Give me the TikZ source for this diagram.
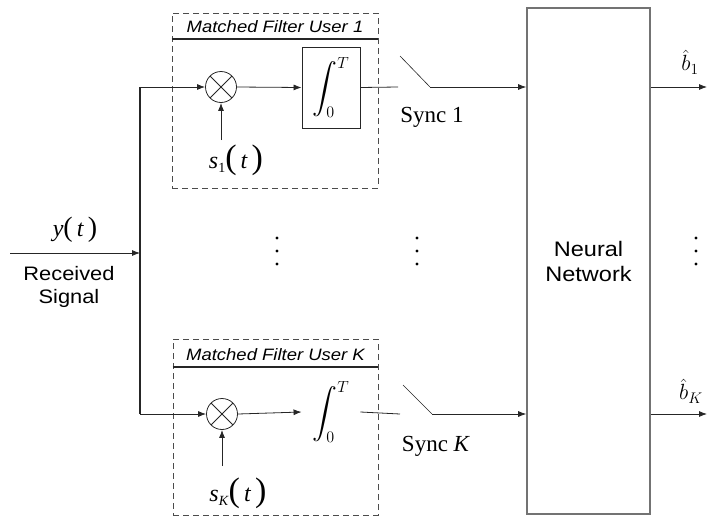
\RequirePackage{fix-cm}
\documentclass[tikz,border=0pt]{standalone}
\usepackage{amsmath}
\usepackage{fontspec}
\setmainfont{Liberation Serif}
\newfontfamily\arialx[FakeStretch=1.12]{Liberation Sans}
\usetikzlibrary{arrows.meta}
\newcommand{\bigparen}[2]{{\fontsize{#1}{#1}\selectfont(}#2{\fontsize{#1}{#1}\selectfont)}}
\begin{document}
\begin{tikzpicture}[x=1pt,y=-1pt,
  wire/.style={line width=0.8pt, draw=black!85},
  sig/.style={wire, -{Latex[length=8pt,width=6pt]}},
  mfbox/.style={draw=black!70, line width=0.9pt, dash pattern=on 6pt off 4pt, inner sep=0pt},
  tline/.style={draw=black!85, line width=1.2pt},
  mult/.style={circle, draw=black!85, line width=0.8pt, minimum size=31pt, inner sep=0pt,
    path picture={\draw[line width=0.8pt, black!85]
      (path picture bounding box.north west) -- (path picture bounding box.south east)
      (path picture bounding box.north east) -- (path picture bounding box.south west);}},
  intbox/.style={draw=black!85, line width=0.9pt, minimum width=58pt, minimum height=81pt, inner sep=0pt},
  nnbox/.style={draw=black!55, line width=1.6pt, minimum width=123pt, minimum height=506pt, inner sep=0pt, align=center,
    font=\arialx\fontsize{21}{25}\selectfont},
  title/.style={font=\arialx\itshape\fontsize{16.5}{18}\selectfont, inner sep=0pt},
  sanslabel/.style={font=\arialx\fontsize{19.5}{23}\selectfont, align=center, inner sep=0pt},
  synclabel/.style={font=\fontsize{23}{25}\selectfont, inner sep=0pt},
  mathlabel/.style={font=\fontsize{24}{26}\selectfont, inner sep=0pt},
  intlabel/.style={font=\fontsize{23}{23}\selectfont},
  vdot/.style={circle, fill=black, inner sep=0pt, minimum size=3.2pt}
]
\useasboundingbox (0,0) rectangle (709,517);

% matched filter boxes
\node[mfbox, minimum width=206pt, minimum height=175pt] (mf1) at (275,100.5) {};
\node[title] (t1) at (275,27) {Matched Filter User 1};
\draw[tline] (mf1.west |- 0,39) -- (mf1.east |- 0,39);

\node[mfbox, minimum width=205pt, minimum height=176pt] (mfK) at (275.5,427) {};
\node[title] (tK) at (275.5,355) {Matched Filter User K};
\draw[tline] (mfK.west |- 0,367) -- (mfK.east |- 0,367);

% multipliers and integrators
\node[mult] (mult1) at (221,87) {};
\node[mult] (multK) at (222,414) {};
\node[intbox, intlabel] (int1) at (331,87.5) {$\displaystyle\int_0^T$};
\node[intbox, intlabel, draw=none] (intK) at (331,412) {$\displaystyle\int_0^T$};

% neural network
\node[nnbox] (nn) at (588.5,261) {Neural\\Network};

% input
\coordinate (in) at (10,253);
\coordinate (bin) at (140,253);
\coordinate (bt) at (140,87);
\coordinate (bb) at (140,414);
\draw[wire, line width=1.1pt] (bt) -- (bb);
\draw[sig] (in) -- (bin);
\node[mathlabel] (ylab) at (75,230) {\textit{y}\bigparen{28}{\,\textit{t}\,}};
\node[sanslabel] (rs) at (69,287) {Received\\Signal};

% top branch
\draw[sig] (bt) -- (mult1.west);
\draw[sig] (mult1.east) -- (int1.west);
\coordinate (sw1a) at (398,87);
\coordinate (sw1t) at (400,56);
\coordinate (sw1b) at (430,87);
\draw[wire] (int1.east) -- (sw1a);
\draw[wire, line width=0.6pt] (sw1t) -- (sw1b);
\draw[sig] (sw1b) -- (nn.west |- sw1b);
\coordinate (s1a) at (221,140);
\draw[sig] (s1a) -- (mult1.south);
\node[mathlabel] (s1) at (236,160) {\textit{s}\raisebox{-4pt}{\fontsize{14}{14}\selectfont 1}\bigparen{34}{\,\textit{t}\,}};
\node[synclabel] (sync1) at (432,117) {Sync 1};

% bottom branch
\draw[sig] (bb) -- (multK.west);
\draw[sig] (multK.east) -- (intK.west);
\coordinate (swKa) at (400,414);
\coordinate (swKt) at (403,385);
\coordinate (swKb) at (432,414);
\draw[wire] (intK.east) -- (swKa);
\draw[wire, line width=0.6pt] (swKt) -- (swKb);
\draw[sig] (swKb) -- (nn.west |- swKb);
\coordinate (sKa) at (222,466);
\draw[sig] (sKa) -- (multK.south);
\node[mathlabel] (sK) at (238,493) {\textit{s}\raisebox{-4pt}{\fontsize{14}{14}\selectfont\textit{K}}\bigparen{34}{\,\textit{t}\,}};
\node[synclabel] (syncK) at (436,446) {Sync \textit{K}};

% outputs
\coordinate (o1) at (707,87);
\coordinate (oK) at (707,414);
\draw[sig] (nn.east |- o1) -- (o1);
\draw[sig] (nn.east |- oK) -- (oK);
\node[mathlabel, font=\fontsize{22}{24}\selectfont] (b1) at (690,62) {$\hat{b}_1$};
\node[mathlabel, font=\fontsize{22}{24}\selectfont] (bK) at (691,391) {$\hat{b}_K$};

% vertical dots
\foreach \x/\n in {277/a,417/b,696/c}{
  \node[vdot] (d\n1) at (\x,238) {};
  \node[vdot] (d\n2) at (\x,251) {};
  \node[vdot] (d\n3) at (\x,264) {};
}
\end{tikzpicture}
\end{document}
